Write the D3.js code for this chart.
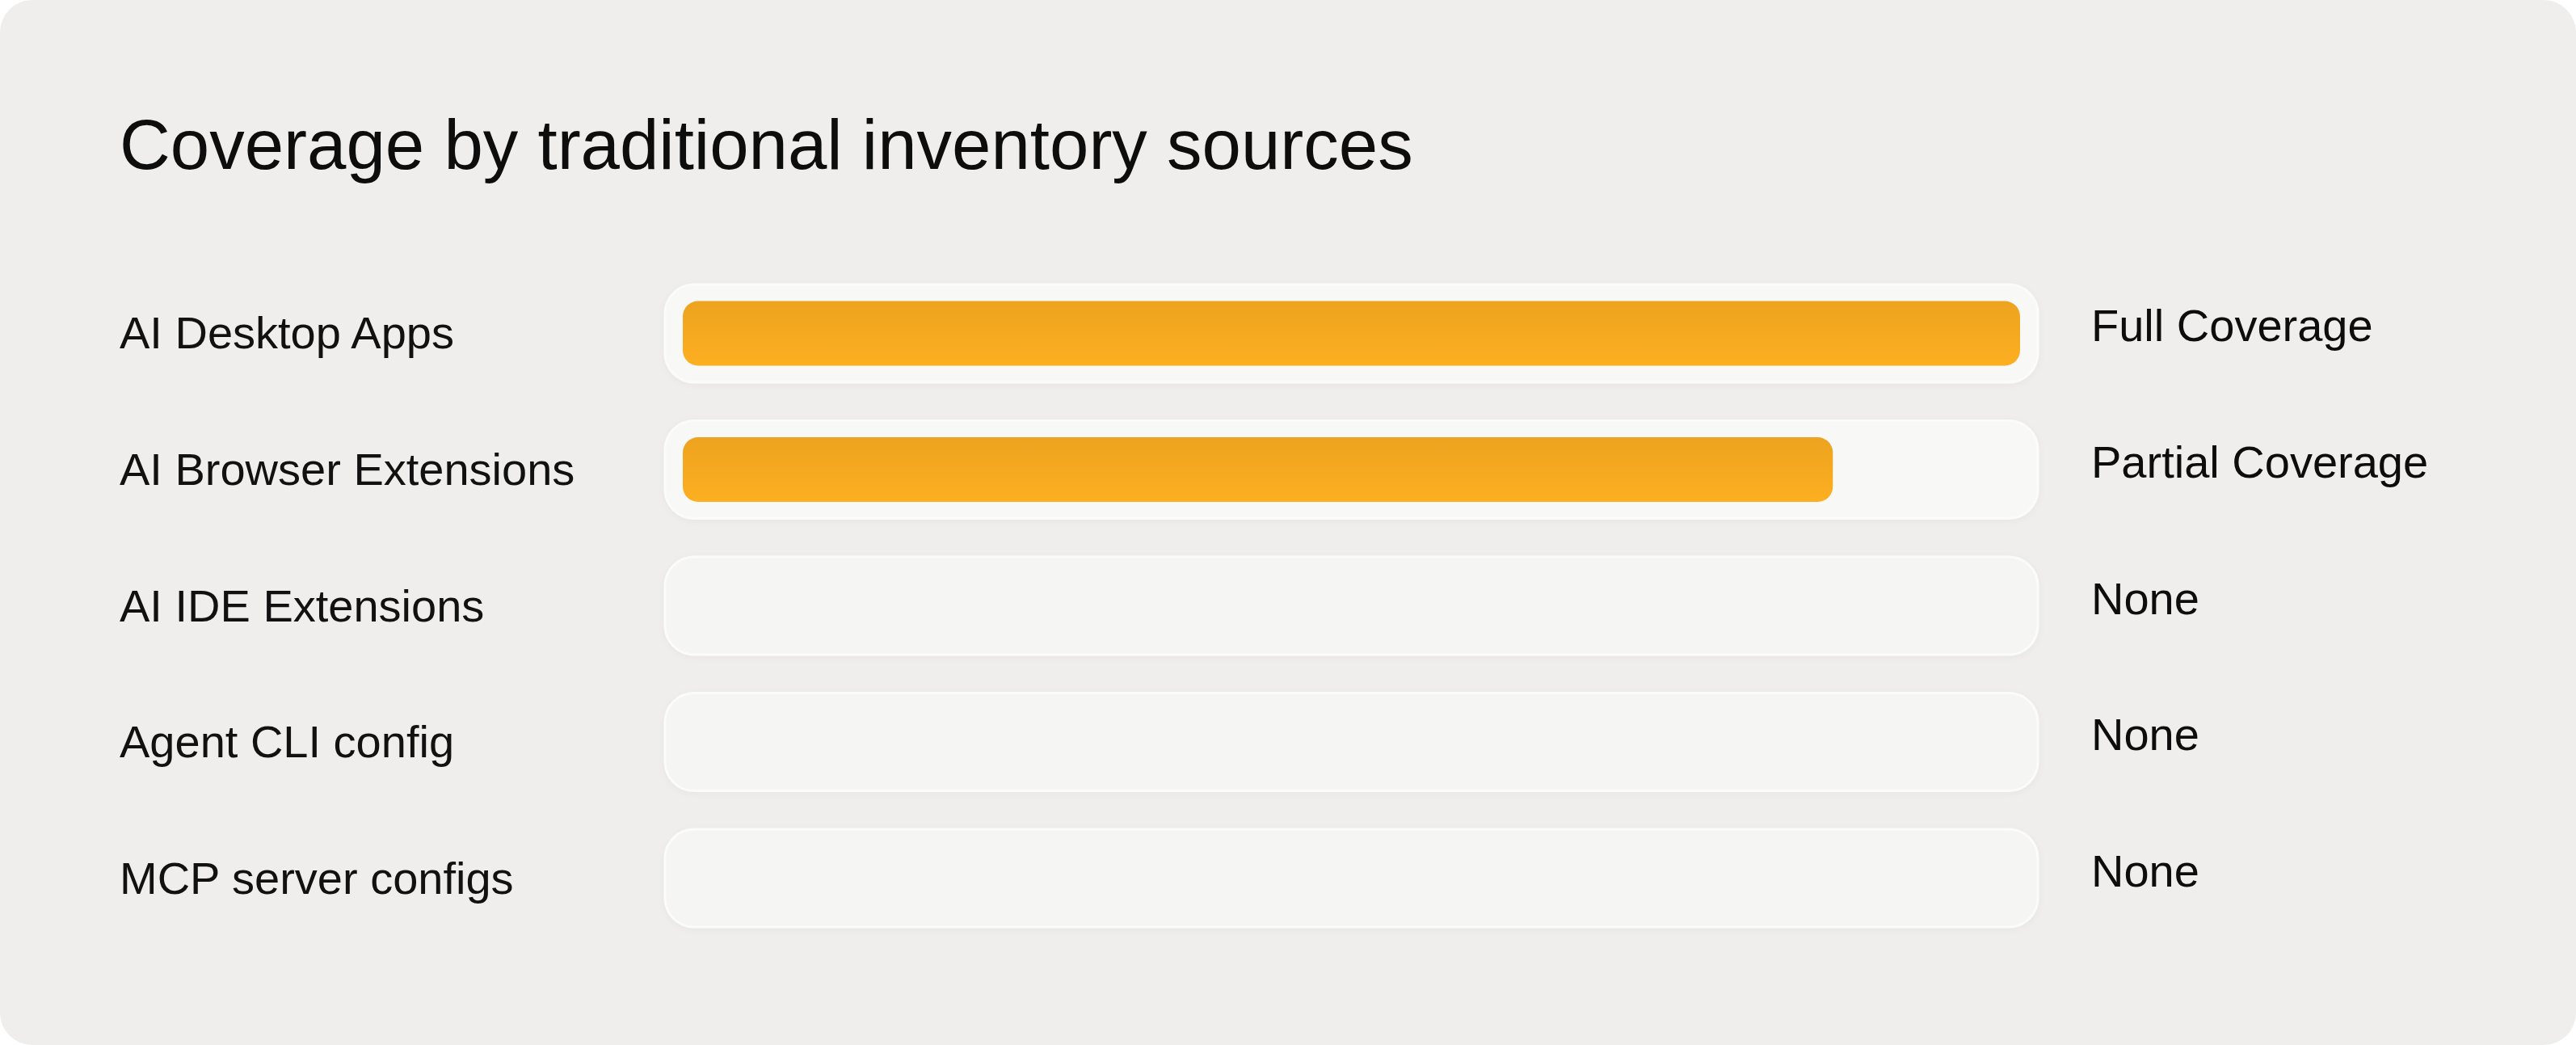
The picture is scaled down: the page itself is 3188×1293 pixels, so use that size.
<!DOCTYPE html>
<html>
<head>
<meta charset="utf-8">
<script src="https://cdn.jsdelivr.net/npm/d3@7"></script>
<style>
  html, body { margin: 0; padding: 0; background: #ffffff; overflow: hidden; }
  text { font-family: "Liberation Sans", Arial, Helvetica, sans-serif; }
</style>
</head>
<body>
<div id="chart"></div>
<script>
// data
const categories = ["AI Desktop Apps", "AI Browser Extensions", "AI IDE Extensions", "Agent CLI config", "MCP server configs"];
const coverage = [100, 86, 0, 0, 0];
const statusLabels = ["Full Coverage", "Partial Coverage", "None", "None", "None"];
const title = "Coverage by traditional inventory sources";

const width = 3188;
const height = 1293;

const svg = d3.select("#chart")
    .append("svg")
    .attr("width", width)
    .attr("height", height);

const defs = svg.append("defs");

// orange fill, a bit darker on top
const grad = defs.append("linearGradient")
    .attr("id", "orange")
    .attr("x1", 0).attr("y1", 0).attr("x2", 0).attr("y2", 1);
grad.append("stop").attr("offset", "0%").attr("stop-color", "#eda31f");
grad.append("stop").attr("offset", "100%").attr("stop-color", "#fdaf21");

const shadow = defs.append("filter")
    .attr("id", "soft")
    .attr("x", "-5%").attr("y", "-30%").attr("width", "110%").attr("height", "160%");
shadow.append("feDropShadow")
    .attr("dx", 0).attr("dy", 2)
    .attr("stdDeviation", 4)
    .attr("flood-color", "#000")
    .attr("flood-opacity", 0.035);

// card background
svg.append("rect")
    .attr("x", 0).attr("y", 0)
    .attr("width", width).attr("height", height)
    .attr("rx", 40)
    .attr("fill", "#efeeec");

svg.append("text")
    .attr("x", 148)
    .attr("y", 209)
    .attr("font-size", 87)
    .attr("fill", "#0d0d0d")
    .text(title);

// scales
const yScale = d3.scaleBand()
    .domain(categories)
    .range([352, 1147])
    .paddingInner(0.282)
    .paddingOuter(0);

const xScale = d3.scaleLinear()
    .domain([0, 100])
    .range([845, 2500]);

const trackPad = 22;
const barInset = 20.5;

const rows = svg.selectAll("g.row")
    .data(categories.map((c, i) => ({ name: c, val: coverage[i], status: statusLabels[i] })))
    .join("g")
    .attr("class", "row");

rows.append("rect")
    .attr("class", "track")
    .attr("x", xScale(0) - trackPad)
    .attr("y", d => yScale(d.name))
    .attr("width", xScale(100) - xScale(0) + trackPad * 2)
    .attr("height", yScale.bandwidth())
    .attr("rx", 36)
    .attr("fill", d => d.val > 0 ? "#f8f8f7" : "#f5f5f4")
    .attr("stroke", "#fbfbfa")
    .attr("stroke-width", 3)
    .attr("filter", "url(#soft)");

rows.filter(d => d.val > 0)
    .append("rect")
    .attr("class", "bar")
    .attr("x", xScale(0))
    .attr("y", d => yScale(d.name) + barInset)
    .attr("width", d => xScale(d.val) - xScale(0))
    .attr("height", yScale.bandwidth() - barInset * 2)
    .attr("rx", 19)
    .attr("fill", "url(#orange)");

rows.append("text")
    .attr("x", 148)
    .attr("y", d => yScale(d.name) + yScale.bandwidth() / 2 + 19)
    .attr("font-size", 56)
    .attr("fill", "#111")
    .text(d => d.name);

rows.append("text")
    .attr("x", 2588)
    .attr("y", d => yScale(d.name) + yScale.bandwidth() / 2 + 10)
    .attr("font-size", 56)
    .attr("fill", "#0d0d0d")
    .text(d => d.status);
</script>
</body>
</html>
